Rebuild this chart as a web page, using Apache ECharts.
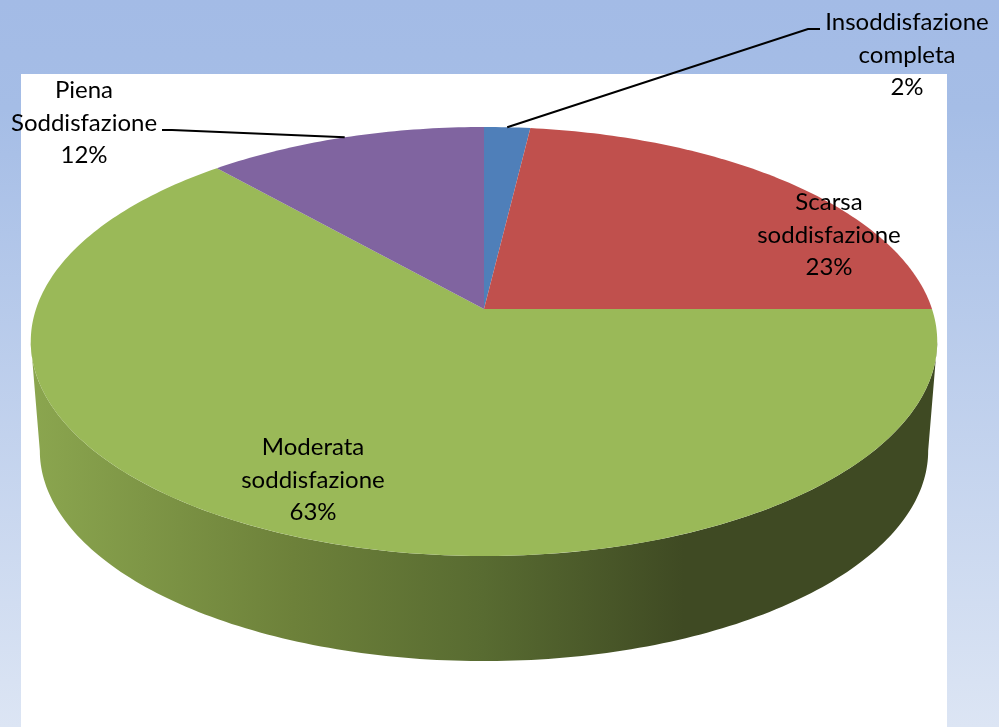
<!DOCTYPE html>
<html>
<head>
<meta charset="utf-8">
<title>Soddisfazione</title>
<script src="https://cdn.jsdelivr.net/npm/echarts@6/dist/echarts.min.js"></script>
<style>
html, body { margin: 0; padding: 0; background: #fff; }
#main { width: 999px; height: 727px; }
</style>
</head>
<body>
<div id="main"></div>
<script>
// dati
var categories = ['Insoddisfazione\ncompleta', 'Scarsa\nsoddisfazione', 'Moderata\nsoddisfazione', 'Piena\nSoddisfazione'];
var values = [1.9, 23.1, 63.45, 11.55];
var colors = ['#4f7fb9', '#c0504d', '#9ab958', '#8064a0'];

// posizione delle etichette
var labelX = [907, 829, 313, 84];
var labelY = [55, 235, 480, 123];
// linee guida: [gomito, fine] per le fette con etichetta esterna
var leaders = {
	0: [[808, 29], [820, 29]],
	3: [[172, 130], [162, 130]]
};

// torta in prospettiva
var cx = 484, cy = 309;
var rx = 448, ry = 209.6, persp = 0.1515;
var depthY = 110, depthScale = 0.98;

var total = 0;
for (var i = 0; i < values.length; i++) {
	total += values[i];
}
var starts = [];
var acc = 0;
for (var i = 0; i < values.length; i++) {
	starts.push(acc / total * Math.PI * 2);
	acc += values[i];
}

function project(theta, bottom) {
	var u = Math.sin(theta), v = Math.cos(theta);
	var w = 1 + persp * v;
	var s = bottom ? depthScale : 1;
	return [
		cx + s * rx * u / w,
		cy + (bottom ? depthY : 0) - s * ry * v / w
	];
}

function arc(a0, a1, bottom) {
	var pts = [];
	var n = Math.max(2, Math.ceil(Math.abs(a1 - a0) * 60));
	for (var k = 0; k <= n; k++) {
		pts.push(project(a0 + (a1 - a0) * k / n, bottom));
	}
	return pts;
}

// parte visibile del bordo: solo il davanti
var wallFrom = Math.PI / 2 + Math.asin(persp);
var wallTo = Math.PI * 2 - wallFrom;

var wallGradient = new echarts.graphic.LinearGradient(30, 0, 938, 0, [
	{ offset: 0, color: '#8ba64f' },
	{ offset: 0.29, color: '#6d813a' },
	{ offset: 0.5, color: '#586b31' },
	{ offset: 0.72, color: '#3f4a23' },
	{ offset: 1, color: '#3f4a23' }
], true);

function renderSlice(params, api) {
	var idx = params.dataIndex;
	var a0 = starts[idx];
	var a1 = a0 + api.value(0) / total * Math.PI * 2;
	var children = [];

	// bordo 3D
	var w0 = Math.max(a0, wallFrom), w1 = Math.min(a1, wallTo);
	if (w1 > w0) {
		var wall = arc(w0, w1, false).concat(arc(w1, w0, true));
		children.push({
			type: 'polygon',
			shape: { points: wall },
			style: { fill: wallGradient }
		});
	}

	// faccia superiore
	var face = [[cx, cy]].concat(arc(a0, a1, false));
	children.push({
		type: 'polygon',
		shape: { points: face },
		style: { fill: colors[idx] }
	});

	// linea guida
	if (leaders[idx]) {
		var mid = project((a0 + a1) / 2, false);
		children.push({
			type: 'polyline',
			shape: { points: [mid].concat(leaders[idx]) },
			style: { fill: null, stroke: '#000', lineWidth: 2 },
			z2: 10
		});
	}

	// etichetta
	var pct = Math.round(api.value(0) / total * 100);
	children.push({
		type: 'text',
		x: labelX[idx],
		y: labelY[idx],
		z2: 20,
		style: {
			text: categories[idx] + '\n' + pct + '%',
			fill: '#000',
			font: '24px Lato',
			lineHeight: 32.5,
			align: 'center',
			verticalAlign: 'middle'
		}
	});

	return { type: 'group', children: children };
}

var myChart = echarts.init(document.getElementById('main'));
myChart.setOption({
	animation: false,
	backgroundColor: new echarts.graphic.LinearGradient(0, 0, 0, 1, [
		{ offset: 0, color: '#a3bbe6' },
		{ offset: 0.15, color: '#a5bde6' },
		{ offset: 1, color: '#dce5f4' }
	]),
	graphic: {
		z: 0,
		elements: [{
			type: 'rect',
			shape: { x: 21, y: 74, width: 926, height: 653 },
			style: { fill: '#fff' }
		}]
	},
	series: [{
		type: 'custom',
		coordinateSystem: 'none',
		z: 5,
		silent: true,
		data: values,
		renderItem: renderSlice
	}]
});
</script>
</body>
</html>
